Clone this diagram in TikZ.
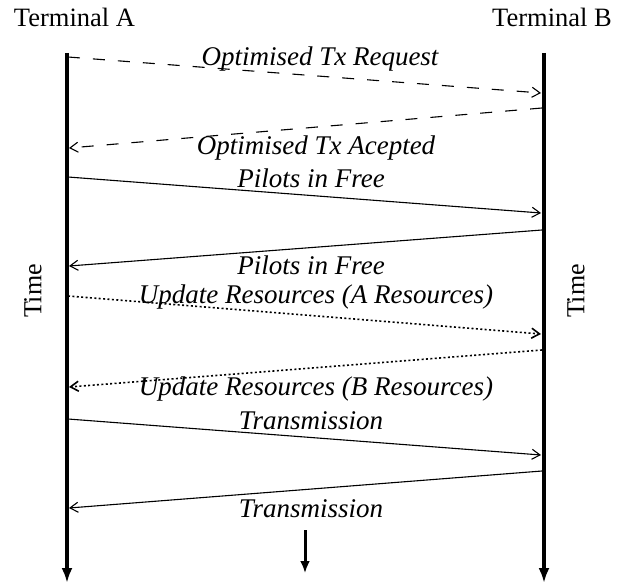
\documentclass[tikz,border=0pt]{standalone}
\usepackage{fontspec}
\setmainfont{Liberation Serif}
\usetikzlibrary{arrows.meta}
\begin{document}
\begin{tikzpicture}[x=1pt,y=-1pt,
  lifeline/.style={line width=4pt,-{Latex[length=15pt,width=11pt]}},
  msg/.style={line width=1.1pt,-{Straight Barb[length=8pt,width=10pt]}},
  dashmsg/.style={msg,dash pattern=on 12pt off 13pt},
  dotmsg/.style={msg,line width=1.6pt,dash pattern=on 2pt off 2.4pt},
  head/.style={font=\fontsize{26.5}{31}\selectfont,inner sep=0pt,anchor=base},
  lbl/.style={font=\fontsize{27}{32}\selectfont\itshape,inner sep=0pt,anchor=base},
  timelbl/.style={font=\fontsize{26}{31}\selectfont,inner sep=0pt,rotate=90}]
\useasboundingbox (0,0) rectangle (629,583);
% headers
\node[head] (ta) at (74.5,27) {Terminal A};
\node[head] (tb) at (552,27) {Terminal B};
% lifelines
\coordinate (atop) at (67,53);
\coordinate (abot) at (67,583);
\coordinate (btop) at (544,53);
\coordinate (bbot) at (544,583);
\draw[lifeline] (atop) -- (abot);
\draw[lifeline] (btop) -- (bbot);
% time labels
\node[timelbl] (timeA) at (33,291) {Time};
\node[timelbl] (timeB) at (576,291) {Time};
% middle time arrow
\coordinate (mtop) at (305,530);
\coordinate (mbot) at (305,573);
\draw[line width=3pt,-{Latex[length=12pt,width=10pt]}] (mtop) -- (mbot);
% message endpoints
\coordinate (a1) at (68,57);  \coordinate (b1) at (541,93);
\coordinate (b2) at (542,108); \coordinate (a2) at (69,148);
\coordinate (a3) at (68,177); \coordinate (b3) at (541,213);
\coordinate (b4) at (542,230); \coordinate (a4) at (69,266);
\coordinate (a5) at (68,296); \coordinate (b5) at (541,334);
\coordinate (b6) at (542,350); \coordinate (a6) at (69,387);
\coordinate (a7) at (68,419); \coordinate (b7) at (541,455);
\coordinate (b8) at (542,471); \coordinate (a8) at (69,508);
\draw[dashmsg] (a1) -- (b1);
\draw[dashmsg] (b2) -- (a2);
\draw[msg] (a3) -- (b3);
\draw[msg] (b4) -- (a4);
\draw[dotmsg] (a5) -- (b5);
\draw[dotmsg] (b6) -- (a6);
\draw[msg] (a7) -- (b7);
\draw[msg] (b8) -- (a8);
% labels
\node[lbl] (l1) at (320,66) {Optimised Tx Request};
\node[lbl] (l2) at (316,154) {Optimised Tx Acepted};
\node[lbl] (l3) at (311,187) {Pilots in Free};
\node[lbl] (l4) at (311,274) {Pilots in Free};
\node[lbl] (l5) at (316,303) {Update Resources (A Resources)};
\node[lbl] (l6) at (316,395) {Update Resources (B Resources)};
\node[lbl] (l7) at (311,429) {Transmission};
\node[lbl] (l8) at (311,517) {Transmission};
\end{tikzpicture}
\end{document}
